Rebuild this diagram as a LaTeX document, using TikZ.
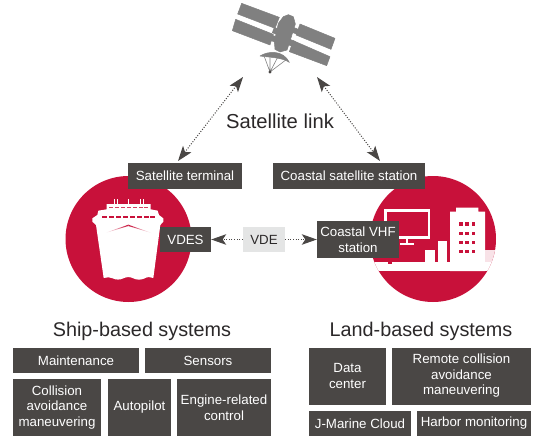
\documentclass[tikz,border=0pt]{standalone}
\usepackage{fontspec}
\setmainfont{Liberation Sans}
\usetikzlibrary{arrows.meta}
\definecolor{boxc}{HTML}{4A4745}
\definecolor{crim}{HTML}{C8113A}
\definecolor{satc}{HTML}{808080}
\definecolor{vdec}{HTML}{E4E5E5}
\definecolor{txtc}{HTML}{2B2829}
\tikzset{
  sysbox/.style={fill=boxc,text=white,inner sep=0pt,align=center,font=\fontsize{13.3}{15.5}\selectfont},
  title/.style={text=txtc,inner sep=0pt,font=\fontsize{19.8}{24}\selectfont},
  link/.style={draw=boxc,line width=1pt,dash pattern=on 1pt off 1.6pt},
  bighead/.tip={Stealth[length=15pt,width=10.5pt,inset=3.5pt]},
  zoomed/.style={x=0.33333pt,y=-0.33333pt},
  satpart/.style={fill=satc,draw=satc,line width=.5pt,line join=round}
}
\begin{document}
\begin{tikzpicture}[x=1pt,y=-1pt]
\useasboundingbox (0,0) rectangle (544,439);
% circles
\fill[crim] (128.5,239) circle (63pt);
\fill[crim] (433,239) circle (63pt);
% satellite
\begin{scope}[shift={(225,0)},zoomed]
\path[satpart] (50,10)--(163,52)--(150,85)--(38,42)--cycle;
\path[satpart] (32,58)--(145,103)--(135,135)--(22,92)--cycle;
\path[satpart] (225,72)--(330,115)--(318,148)--(213,105)--cycle;
\path[satpart] (205,122)--(315,170)--(305,197)--(193,155)--cycle;
\path[satpart] (148,82)--(172,92)--(166,108)--(142,98)--cycle;
\path[satpart] (140,105)--(160,113)--(154,128)--(134,120)--cycle;
\path[satpart] (200,80)--(225,90)--(219,104)--(194,94)--cycle;
\path[satpart] (190,116)--(210,124)--(204,140)--(184,132)--cycle;
\path[satpart] (190,44)--(205,50)--(211,72)--(196,120)--(186,150)--(165,156)--(150,148)--(148,125)--(160,70)--(175,50)--cycle;
\path[satpart] (105,168) .. controls (130,152) and (175,150) .. (193,187) .. controls (172,172) and (130,172) .. (105,168)--cycle;
\draw[satc,line width=.6pt] (118,170)--(135,216)--(185,178) (135,172)--(135,216)--(158,172);
\fill[boxc] (135,216) circle (1.6pt);
\end{scope}
% ship
\begin{scope}[shift={(85,190)},zoomed]
\fill[white] (65,42)--(197,42)--(197,58)--(218,62)--(222,75)--(235,85)--(235,95)--(226,105)--(205,264)
  .. controls (195,260) and (187,260) .. (177,266) .. controls (167,270) and (155,270) .. (145,265)
  .. controls (135,260) and (125,260) .. (115,265) .. controls (105,270) and (93,270) .. (83,265)
  .. controls (75,261) and (66,261) .. (56,264)
  --(33,105)--(22,95)--(22,85)--(37,75)--(40,62)--(65,58)--cycle;
\foreach \mx in {87,96,130,165,175} \fill[white] (\mx-1.5,28) rectangle (\mx+1.5,42);
\foreach \wx in {52,73,94,115,136,157,178,196} \fill[crim] (\wx,77) rectangle (\wx+15,85);
\foreach \wx in {72,90,108,126,144,162,178} \fill[crim!80!white] (\wx,50) rectangle (\wx+12,55);
\shade[left color=white,right color=crim] (60,129)--(130,104)--(130,108)--cycle;
\shade[left color=crim,right color=white] (130,104)--(200,129)--(130,108)--cycle;
\end{scope}
% city
\begin{scope}
\clip (433,239) circle (63pt);
\begin{scope}[shift={(380,195)},zoomed]
\fill[white] (-40,200) rectangle (350,228);
\fill[crim] (25,195) rectangle (37,208);
\fill[white] (135,165) rectangle (165,205);
\fill[white] (173,137) rectangle (200,205);
\fill[white] (210,50)--(228,50)--(228,38)--(295,38)--(295,50)--(315,50)--(315,228)--(210,228)--cycle;
\fill[crim!12] (315,165) rectangle (350,200);
\foreach \wy in {82,110,137,165} \foreach \wx in {238,256,275} \fill[crim] (\wx,\wy) rectangle (\wx+10,\wy+10);
\draw[white,line width=2.8pt] (17,46) rectangle (147,127);
\fill[white] (78,127) rectangle (85,145);
\fill[white] (60,144) rectangle (102,150);
\end{scope}
\end{scope}
% boxes
\node[sysbox,minimum width=114pt,minimum height=26pt] (term) at (185,176) {Satellite terminal};
\node[sysbox,minimum width=152pt,minimum height=26pt] (coast) at (349,176) {Coastal satellite station};
\node[sysbox,minimum width=51pt,minimum height=25pt] (vdes) at (185.5,239.5) {VDES};
\node[fill=vdec,text=txtc,inner sep=0pt,minimum width=42pt,minimum height=25pt,font=\fontsize{13.3}{15.5}\selectfont] (vde) at (264,239.5) {VDE};
\node[sysbox,minimum width=82pt,minimum height=37pt] (vhf) at (358,239.5) {Coastal VHF\\station};
% labels
\node[text=txtc,inner sep=0pt,font=\fontsize{20.2}{24}\selectfont] (slink) at (280,121) {Satellite link};
\node[title] (ship) at (142,331) {Ship-based systems};
\node[title] (land) at (421,331) {Land-based systems};
% ship-based
\node[sysbox,minimum width=126pt,minimum height=25pt] (maint) at (76,360.5) {Maintenance};
\node[sysbox,minimum width=126pt,minimum height=25pt] (sens) at (208,360.5) {Sensors};
\node[sysbox,minimum width=88pt,minimum height=57pt] (coll) at (57,407.5) {Collision\\avoidance\\maneuvering};
\node[sysbox,minimum width=63pt,minimum height=57pt] (auto) at (139.5,407.5) {Autopilot};
\node[sysbox,minimum width=94pt,minimum height=57pt] (eng) at (224,407.5) {Engine-related\\control};
% land-based
\node[sysbox,minimum width=77pt,minimum height=57pt] (data) at (347.5,376) {Data\\center};
\node[sysbox,minimum width=139pt,minimum height=57pt] (remote) at (461.5,376) {Remote collision\\avoidance\\maneuvering};
\node[sysbox,minimum width=102pt,minimum height=25pt] (jm) at (360,423.5) {J-Marine Cloud};
\node[sysbox,minimum width=114pt,minimum height=25pt] (harb) at (474,423.5) {Harbor monitoring};
% connectors
\coordinate (satl) at (243,77);
\coordinate (satr) at (317,77);
\coordinate (terml) at (178,161);
\coordinate (coastr) at (380,161);
\draw[link,{bighead}-{bighead}] (satl) -- (terml);
\draw[link,{bighead}-{bighead}] (satr) -- (coastr);
\draw[link,-{bighead}] (vde.west) -- (vdes.east);
\draw[link,-{bighead}] (vde.east) -- (vhf.west);
\end{tikzpicture}
\end{document}
